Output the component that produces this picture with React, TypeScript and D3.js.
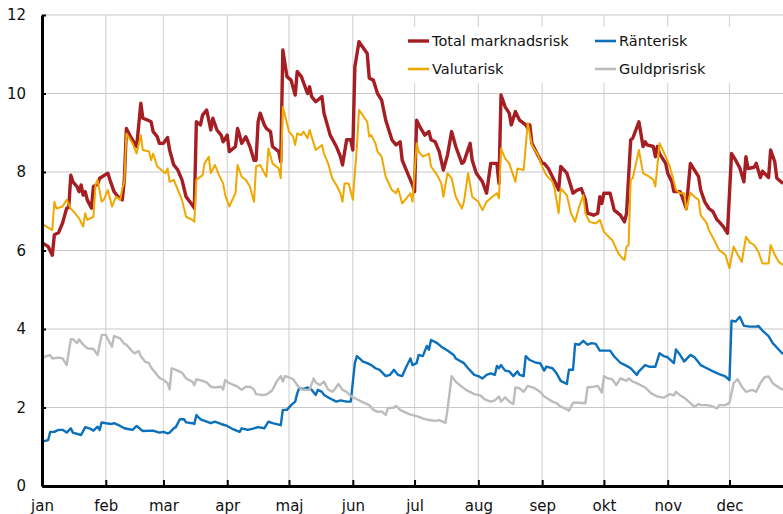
import * as d3 from "d3";
import React, { useEffect, useRef } from "react";

// month labels on the x axis, y axis ticks
const months = ["jan", "feb", "mar", "apr", "maj", "jun", "jul", "aug", "sep", "okt", "nov", "dec"];
const yTicks = [0, 2, 4, 6, 8, 10, 12];

// [day of year (0 = 1 jan), value]
const totalRisk: [number, number][] = [
  [0, 6.2], [3, 6.1], [5, 5.88], [6, 6.4], [8, 6.45], [10, 6.7], [12, 7.08], [13, 7.1], [14, 7.92], [15, 7.75],
  [17, 7.63], [18, 7.5], [19, 7.67], [20, 7.41], [21, 7.5], [22, 7.29], [24, 7.08], [25, 7.63], [27, 7.69], [28, 7.84],
  [32, 7.97], [33, 7.8], [35, 7.5], [37, 7.37], [39, 7.29], [40, 7.8], [41, 9.11], [43, 8.9], [45, 8.73], [46, 8.65],
  [48, 9.75], [49, 9.37], [51, 9.33], [53, 9.28], [54, 9.03], [56, 8.9], [57, 8.73], [59, 8.73], [61, 8.88], [62, 8.56],
  [64, 8.18], [66, 8.05], [68, 7.8], [70, 7.37], [73, 7.16], [74, 7.08], [75, 9.28], [77, 9.2], [78, 9.45], [80, 9.58],
  [82, 9.07], [83, 9.37], [85, 9.07], [87, 8.94], [88, 8.77], [90, 8.94], [91, 8.52], [94, 8.65], [95, 9.11], [96, 8.94],
  [97, 8.73], [99, 8.9], [101, 8.65], [103, 8.3], [104, 8.3], [105, 9.28], [106, 9.5], [108, 9.2], [109, 9.11], [111, 9.03],
  [112, 8.65], [115, 8.52], [116, 8.26], [117, 11.11], [119, 10.43], [121, 10.34], [123, 9.96], [124, 10.56], [126, 10.43], [129, 10.0],
  [130, 10.17], [131, 9.92], [133, 9.79], [136, 9.92], [137, 9.5], [140, 8.94], [143, 8.65], [145, 8.39], [146, 8.18], [148, 8.82],
  [150, 8.82], [151, 8.56], [152, 10.68], [154, 11.32], [158, 11.02], [159, 10.39], [161, 10.34], [163, 10.0], [165, 9.83], [167, 9.32],
  [170, 8.82], [172, 8.69], [174, 8.77], [175, 8.3], [178, 7.92], [180, 7.67], [181, 7.5], [182, 9.32], [184, 9.11], [186, 8.94],
  [188, 9.03], [189, 8.82], [191, 8.77], [193, 8.52], [195, 8.05], [197, 8.43], [199, 9.03], [201, 8.65], [204, 8.22], [205, 8.26],
  [208, 8.73], [209, 8.3], [211, 7.97], [214, 7.75], [216, 7.46], [218, 8.22], [221, 8.22], [222, 7.71], [223, 9.96], [225, 9.66],
  [227, 9.5], [228, 9.2], [230, 9.54], [232, 9.32], [235, 9.2], [236, 9.11], [237, 9.2], [238, 8.73], [240, 8.52], [243, 8.22],
  [244, 8.22], [246, 8.09], [248, 7.88], [251, 7.54], [252, 8.14], [255, 7.97], [256, 7.8], [258, 7.46], [260, 7.54], [262, 7.58],
  [264, 7.29], [265, 6.95], [268, 6.9], [270, 6.95], [271, 7.37], [272, 7.2], [273, 7.46], [276, 7.46], [278, 7.03], [281, 6.9],
  [283, 6.73], [284, 6.95], [286, 8.82], [287, 8.86], [290, 9.28], [292, 8.65], [293, 8.77], [294, 8.69], [297, 8.65], [298, 8.39],
  [299, 8.65], [300, 8.47], [303, 8.22], [304, 7.97], [306, 7.75], [307, 7.5], [310, 7.5], [311, 7.37], [313, 7.07], [315, 8.22],
  [317, 8.05], [319, 7.88], [320, 7.54], [322, 7.24], [324, 7.07], [326, 6.99], [328, 6.78], [329, 6.73], [331, 6.61], [333, 6.44],
  [335, 8.47], [337, 8.3], [339, 8.1], [341, 7.75], [342, 8.39], [343, 8.09], [346, 8.12], [347, 8.22], [349, 7.86], [350, 8.02],
  [353, 7.86], [354, 8.56], [356, 8.26], [357, 7.84], [360, 7.71],
];

const interestRisk: [number, number][] = [
  [0, 1.13], [3, 1.17], [4, 1.38], [6, 1.38], [8, 1.43], [10, 1.43], [12, 1.36], [14, 1.47], [15, 1.36], [19, 1.3],
  [21, 1.5], [23, 1.47], [25, 1.41], [27, 1.51], [28, 1.43], [29, 1.62], [31, 1.6], [34, 1.58], [35, 1.6], [38, 1.53],
  [40, 1.47], [43, 1.44], [44, 1.43], [46, 1.53], [48, 1.44], [49, 1.4], [54, 1.41], [57, 1.36], [59, 1.38], [61, 1.34],
  [62, 1.36], [64, 1.47], [65, 1.5], [67, 1.7], [69, 1.7], [70, 1.62], [73, 1.6], [74, 1.58], [75, 1.81], [77, 1.7],
  [80, 1.64], [82, 1.6], [84, 1.64], [87, 1.58], [90, 1.53], [93, 1.44], [96, 1.38], [97, 1.47], [100, 1.43], [103, 1.47],
  [105, 1.5], [108, 1.47], [110, 1.64], [112, 1.6], [116, 1.55], [117, 1.94], [119, 1.94], [121, 2.06], [123, 2.15], [124, 2.36],
  [125, 2.5], [127, 2.47], [129, 2.51], [131, 2.45], [133, 2.32], [134, 2.45], [136, 2.4], [137, 2.32], [140, 2.23], [143, 2.15],
  [145, 2.18], [148, 2.15], [150, 2.15], [152, 3.13], [153, 3.31], [156, 3.17], [158, 3.13], [160, 3.08], [162, 3.0], [164, 2.96],
  [167, 2.8], [169, 2.83], [171, 2.96], [173, 2.83], [175, 2.8], [177, 3.04], [179, 3.25], [180, 3.08], [182, 3.13], [183, 3.34],
  [185, 3.31], [187, 3.57], [188, 3.47], [189, 3.72], [192, 3.64], [194, 3.55], [197, 3.45], [200, 3.34], [201, 3.25], [205, 3.13],
  [207, 3.0], [210, 2.83], [212, 2.8], [214, 2.74], [216, 2.83], [218, 2.87], [220, 2.83], [221, 3.06], [222, 3.0], [223, 3.08],
  [225, 2.94], [227, 2.92], [229, 2.8], [231, 2.92], [232, 2.83], [234, 2.8], [235, 3.31], [237, 3.21], [240, 3.14], [242, 3.13],
  [244, 2.94], [245, 3.04], [248, 3.0], [250, 2.87], [252, 2.68], [255, 2.6], [256, 2.96], [258, 2.96], [259, 3.62], [261, 3.6],
  [263, 3.7], [265, 3.6], [267, 3.64], [269, 3.62], [271, 3.45], [276, 3.45], [278, 3.3], [281, 3.14], [284, 3.06], [286, 3.0],
  [289, 2.83], [290, 2.92], [293, 3.08], [295, 3.04], [298, 3.04], [300, 3.38], [302, 3.31], [304, 3.28], [307, 3.13], [308, 3.48],
  [310, 3.34], [312, 3.17], [315, 3.34], [317, 3.28], [320, 3.08], [323, 3.0], [326, 2.92], [329, 2.85], [332, 2.79], [334, 2.7],
  [335, 4.21], [337, 4.19], [339, 4.31], [341, 4.08], [344, 4.06], [347, 4.06], [348, 4.08], [350, 3.96], [353, 3.82], [355, 3.64],
  [358, 3.47], [360, 3.36],
];

const currencyRisk: [number, number][] = [
  [0, 6.68], [5, 6.52], [6, 7.24], [7, 7.07], [10, 7.12], [12, 7.29], [14, 7.07], [16, 6.95], [18, 6.82], [20, 6.61],
  [21, 6.95], [22, 6.78], [25, 6.86], [26, 7.67], [27, 7.8], [29, 7.24], [30, 7.29], [32, 7.54], [34, 7.12], [36, 7.37],
  [38, 7.29], [39, 7.58], [40, 7.75], [41, 8.98], [44, 8.73], [46, 8.47], [48, 8.94], [49, 8.56], [52, 8.52], [53, 8.3],
  [54, 8.47], [56, 8.14], [58, 8.05], [60, 7.97], [61, 8.09], [62, 7.75], [64, 7.8], [65, 7.67], [68, 7.29], [70, 6.86],
  [73, 6.78], [74, 6.73], [75, 7.8], [78, 7.92], [79, 8.22], [81, 8.39], [82, 7.97], [84, 8.18], [86, 7.92], [88, 7.71],
  [89, 7.41], [91, 7.12], [94, 7.46], [95, 8.18], [97, 7.88], [99, 7.8], [101, 7.63], [103, 7.24], [104, 8.14], [106, 8.18],
  [108, 7.97], [109, 7.88], [110, 8.6], [112, 8.22], [115, 8.09], [116, 7.84], [117, 9.66], [120, 9.03], [122, 8.9], [123, 8.69],
  [124, 8.98], [126, 8.94], [127, 9.03], [129, 8.86], [130, 9.07], [132, 8.73], [133, 8.56], [136, 8.69], [137, 8.47], [139, 8.22],
  [141, 7.84], [143, 7.67], [145, 7.46], [146, 7.24], [147, 7.71], [149, 7.71], [151, 7.29], [153, 8.65], [154, 9.58], [158, 9.28],
  [159, 8.9], [160, 8.94], [162, 8.73], [163, 8.52], [165, 8.39], [167, 7.88], [170, 7.54], [172, 7.46], [173, 7.58], [175, 7.2],
  [177, 7.33], [179, 7.46], [180, 7.24], [182, 8.73], [183, 8.52], [185, 8.39], [188, 8.47], [189, 8.14], [192, 7.92], [194, 7.71],
  [195, 7.37], [197, 7.97], [199, 7.84], [201, 7.37], [204, 7.07], [205, 7.24], [207, 7.97], [209, 7.37], [212, 7.24], [214, 7.03],
  [216, 7.24], [218, 7.33], [221, 7.46], [222, 7.33], [223, 8.6], [225, 8.35], [227, 8.22], [230, 7.75], [231, 8.09], [234, 8.05],
  [236, 9.25], [238, 8.69], [241, 8.43], [243, 8.14], [245, 7.92], [248, 7.75], [249, 7.58], [251, 6.95], [252, 7.58], [255, 7.41],
  [257, 6.95], [259, 6.73], [261, 7.12], [263, 7.41], [264, 6.95], [266, 6.73], [269, 6.69], [271, 6.78], [273, 6.48], [276, 6.31],
  [277, 6.27], [280, 5.93], [282, 5.8], [283, 5.76], [284, 6.1], [285, 6.14], [286, 7.8], [287, 7.84], [290, 8.56], [292, 7.97],
  [295, 7.88], [297, 7.8], [298, 7.63], [300, 8.73], [302, 8.52], [303, 8.39], [305, 8.14], [307, 7.75], [308, 7.54], [310, 7.46],
  [312, 7.46], [313, 7.03], [315, 7.47], [317, 7.37], [319, 7.29], [320, 6.9], [323, 6.69], [324, 6.52], [327, 6.22], [329, 6.01],
  [332, 5.89], [333, 5.71], [334, 5.55], [336, 6.1], [338, 5.89], [340, 5.71], [342, 6.35], [344, 6.2], [346, 6.14], [348, 5.97],
  [350, 5.67], [353, 5.67], [354, 6.14], [356, 5.89], [358, 5.71], [360, 5.63],
];

const goldRisk: [number, number][] = [
  [0, 3.25], [2, 3.31], [4, 3.33], [5, 3.25], [8, 3.27], [10, 3.25], [12, 3.08], [14, 3.74], [15, 3.74], [17, 3.64],
  [18, 3.74], [20, 3.6], [22, 3.51], [25, 3.49], [27, 3.34], [29, 3.85], [31, 3.85], [32, 3.74], [34, 3.55], [35, 3.82],
  [38, 3.76], [40, 3.62], [41, 3.6], [44, 3.42], [45, 3.38], [47, 3.44], [48, 3.31], [50, 3.17], [52, 3.13], [53, 3.02],
  [55, 2.89], [57, 2.76], [59, 2.7], [61, 2.62], [62, 2.46], [63, 3.0], [65, 2.96], [68, 2.89], [70, 2.74], [73, 2.66],
  [74, 2.57], [75, 2.72], [78, 2.68], [80, 2.64], [82, 2.53], [84, 2.51], [87, 2.53], [88, 2.46], [89, 2.7], [91, 2.62],
  [95, 2.53], [97, 2.45], [99, 2.53], [101, 2.53], [103, 2.46], [104, 2.34], [107, 2.32], [109, 2.33], [111, 2.4], [112, 2.45],
  [114, 2.66], [116, 2.8], [117, 2.66], [118, 2.8], [120, 2.77], [122, 2.72], [124, 2.57], [126, 2.46], [129, 2.45], [130, 2.45],
  [132, 2.74], [133, 2.64], [135, 2.57], [137, 2.66], [139, 2.46], [141, 2.4], [142, 2.45], [144, 2.6], [146, 2.45], [148, 2.4],
  [150, 2.29], [153, 2.21], [156, 2.13], [159, 2.06], [161, 1.94], [163, 1.89], [165, 1.9], [167, 1.81], [168, 1.98], [171, 2.0],
  [172, 2.04], [174, 1.94], [176, 1.89], [179, 1.82], [182, 1.78], [185, 1.72], [188, 1.68], [191, 1.66], [193, 1.68], [196, 1.61],
  [197, 1.94], [199, 2.8], [201, 2.66], [203, 2.57], [206, 2.45], [210, 2.34], [213, 2.31], [215, 2.21], [218, 2.15], [220, 2.18],
  [222, 2.28], [223, 2.15], [225, 2.26], [227, 2.15], [229, 2.09], [230, 2.51], [232, 2.49], [234, 2.4], [236, 2.55], [239, 2.5],
  [242, 2.4], [244, 2.28], [248, 2.15], [250, 2.11], [252, 2.02], [254, 1.98], [256, 1.92], [258, 2.12], [261, 2.12], [264, 2.11],
  [265, 2.51], [268, 2.53], [270, 2.55], [272, 2.38], [273, 2.8], [275, 2.74], [277, 2.72], [279, 2.57], [281, 2.74], [284, 2.68],
  [285, 2.74], [287, 2.66], [289, 2.62], [293, 2.51], [296, 2.36], [299, 2.28], [302, 2.25], [305, 2.34], [307, 2.31], [308, 2.4],
  [310, 2.31], [312, 2.25], [315, 2.11], [317, 2.02], [319, 2.09], [320, 2.06], [323, 2.06], [325, 2.04], [328, 1.98], [329, 2.06],
  [332, 2.06], [334, 2.12], [336, 2.62], [338, 2.72], [340, 2.53], [342, 2.4], [345, 2.45], [347, 2.4], [349, 2.62], [351, 2.77],
  [353, 2.79], [355, 2.62], [358, 2.51], [360, 2.45],
];

const seriesNames = ["Total marknadsrisk", "Ränterisk", "Valutarisk", "Guldprisrisk"];
const seriesData = [totalRisk, interestRisk, currencyRisk, goldRisk];
const seriesColors = ["#a51e24", "#0a70bb", "#eea800", "#bcbcbc"];
const seriesWidths = [3.4, 2.4, 2, 2.4];

const App = () => {
  const ref = useRef<SVGSVGElement | null>(null);

  useEffect(() => {
    const width = 783;
    const height = 514;
    const margin = { top: 15, right: 0, bottom: 28, left: 42 };
    const start = new Date(2019, 0, 1);

    const svg = d3.select(ref.current);
    svg.selectAll("*").remove();

    // Scales
    const xScale = d3.scaleTime()
      .domain([start, new Date(2019, 11, 27)])
      .range([margin.left, width - margin.right]);
    const yScale = d3.scaleLinear().domain([0, 12]).range([height - margin.bottom, margin.top]);

    const monthStarts = d3.timeMonth.range(start, new Date(2019, 11, 2));
    const dayToDate = (d: number) => d3.timeDay.offset(start, d);

    // Grid
    svg.append("g")
      .selectAll("line")
      .data(monthStarts.slice(1))
      .join("line")
      .attr("x1", d => xScale(d))
      .attr("x2", d => xScale(d))
      .attr("y1", yScale(12))
      .attr("y2", yScale(0))
      .attr("stroke", "#d6d6d6")
      .attr("stroke-width", 1.2);

    svg.append("g")
      .selectAll("line")
      .data(yTicks.slice(1))
      .join("line")
      .attr("x1", margin.left)
      .attr("x2", width)
      .attr("y1", d => yScale(d))
      .attr("y2", d => yScale(d))
      .attr("stroke", "#c8c8c8")
      .attr("stroke-width", 1.2);

    // Legend background covers the grid
    const legend = svg.append("g");
    legend.append("rect")
      .attr("x", 398)
      .attr("y", 27)
      .attr("width", 372)
      .attr("height", 56)
      .attr("fill", "white");

    // Lines
    const line = d3.line<[number, number]>()
      .x(d => xScale(dayToDate(d[0])))
      .y(d => yScale(d[1]));

    seriesData.forEach((data, i) => {
      svg.append("path")
        .datum(data)
        .attr("d", line)
        .attr("fill", "none")
        .attr("stroke", seriesColors[i])
        .attr("stroke-width", seriesWidths[i])
        .attr("stroke-linejoin", "round");
    });

    // Legend entries, two columns
    seriesNames.forEach((name, i) => {
      const lx = i % 2 === 0 ? 408 : 595;
      const ly = i < 2 ? 41 : 69;
      legend.append("line")
        .attr("x1", lx)
        .attr("x2", lx + 21)
        .attr("y1", ly)
        .attr("y2", ly)
        .attr("stroke", seriesColors[i])
        .attr("stroke-width", i === 0 ? 3.4 : 2.6);
      legend.append("text")
        .attr("x", lx + 24)
        .attr("y", ly)
        .attr("dy", "0.35em")
        .style("font-size", "14.5px")
        .style("fill", "#111")
        .text(name);
    });
    legend.raise();

    // Axes
    const yAxis = d3.axisLeft(yScale).tickValues(yTicks).tickSizeInner(-4).tickSizeOuter(0).tickPadding(16);
    const gy = svg.append("g").attr("transform", `translate(${margin.left},0)`).call(yAxis);
    gy.select(".domain").attr("stroke", "#000").attr("stroke-width", 3);
    gy.selectAll(".tick line").attr("stroke", "#000").attr("stroke-width", 2);
    gy.selectAll(".tick text").style("font-size", "15px").style("fill", "#111");

    const xAxis = d3.axisBottom(xScale)
      .tickValues(monthStarts)
      .tickFormat((d, i) => months[i])
      .tickSizeInner(-6)
      .tickSizeOuter(0)
      .tickPadding(14);
    const gx = svg.append("g").attr("transform", `translate(0,${height - margin.bottom})`).call(xAxis);
    gx.select(".domain").attr("stroke", "#000").attr("stroke-width", 3);
    gx.selectAll(".tick line").attr("stroke", "#000").attr("stroke-width", 2);
    gx.selectAll(".tick text").style("font-size", "15px").style("fill", "#111");
    svg.selectAll(".tick text").attr("font-family", null);
    gx.attr("font-family", null);
    gy.attr("font-family", null);
  }, []);

  return (
    <svg
      ref={ref}
      width={783}
      height={514}
      style={{ position: "absolute", left: 0, top: 0, background: "white", fontFamily: "'DejaVu Sans', Verdana, sans-serif" }}
    />
  );
};

export default App;
